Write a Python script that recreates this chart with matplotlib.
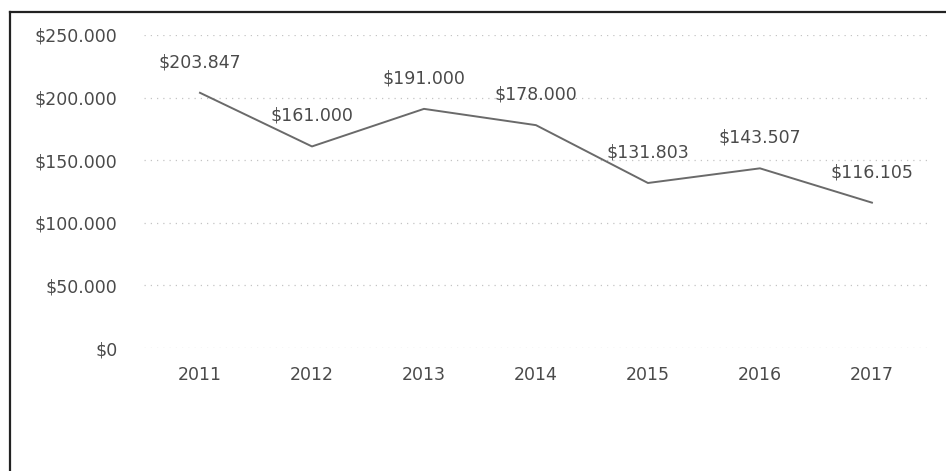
import matplotlib.pyplot as plt
from matplotlib.lines import Line2D
from matplotlib.ticker import FuncFormatter

# Datos de la serie
anios = ["2011", "2012", "2013", "2014", "2015", "2016", "2017"]
valores = [203847, 161000, 191000, 178000, 131803, 143507, 116105]
etiquetas = ["$203.847", "$161.000", "$191.000", "$178.000", "$131.803", "$143.507", "$116.105"]
ticks_y = [0, 50000, 100000, 150000, 200000, 250000]

color_texto = "#4a4a4a"
fuente = "DejaVu Sans"


def formato_pesos(v, pos):
    # separador de miles con punto
    return "$" + f"{int(v):,}".replace(",", ".")


fig = plt.figure(figsize=(9.46, 4.71), dpi=100)
ax = fig.add_axes([0.1522, 0.2611, 0.8287, 0.6646])

x = list(range(len(anios)))
ax.plot(x, valores, color="#6a6a6a", lw=1.4, zorder=3)

# Etiquetas de datos encima de cada punto
for xi, v, txt in zip(x, valores, etiquetas):
    ax.annotate(txt, xy=(xi, v), xytext=(0, 22), textcoords="offset points",
                ha="center", va="center", fontsize=12.5, color=color_texto,
                family=fuente)

ax.set_xlim(-0.5, len(anios) - 0.5)
ax.set_ylim(0, 250000)
ax.set_yticks(ticks_y)
ax.yaxis.set_major_formatter(FuncFormatter(formato_pesos))
ax.set_xticks(x)
ax.set_xticklabels(anios)

ax.grid(axis="y", color="#c4c4c4", linestyle=(0, (1, 4)), lw=0.9)
ax.set_axisbelow(True)

for s in ax.spines.values():
    s.set_visible(False)
ax.tick_params(axis="both", length=0, labelsize=12.5, labelcolor=color_texto)
ax.tick_params(axis="y", pad=19)
ax.tick_params(axis="x", pad=13)
for lbl in ax.get_xticklabels() + ax.get_yticklabels():
    lbl.set_family(fuente)

# Marco izquierdo y superior
fig.add_artist(Line2D([10 / 946, 10 / 946], [0, 1 - 12 / 471], color="#222222", lw=1.6))
fig.add_artist(Line2D([10 / 946, 1], [1 - 12 / 471, 1 - 12 / 471], color="#222222", lw=1.6))

plt.savefig("out.png", dpi=100)
